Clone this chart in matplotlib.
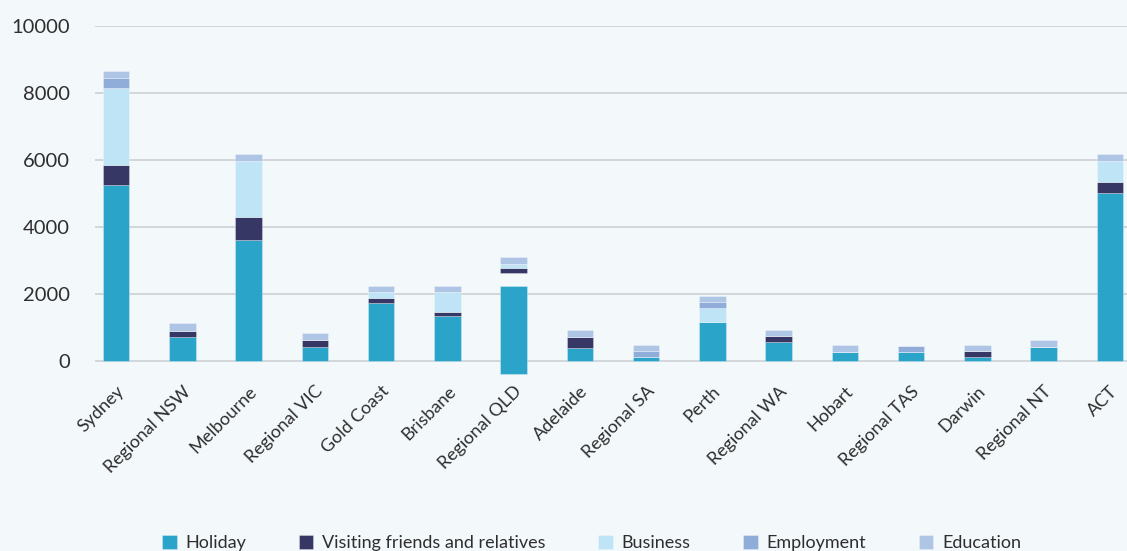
import matplotlib
matplotlib.use("Agg")
import matplotlib.pyplot as plt
import numpy as np

categories = ["Sydney", "Regional NSW", "Melbourne", "Regional VIC", "Gold Coast",
              "Brisbane", "Regional QLD", "Adelaide", "Regional SA", "Perth",
              "Regional WA", "Hobart", "Regional TAS", "Darwin", "Regional NT", "ACT"]

holiday    = [5250, 730, 3600, 420, 1730, 1340, 2640, 400, 130, 1170, 570, 280, 280, 130, 410, 5020]
vfr        = [600, 170, 700, 200, 160, 120, 130, 330, 0, 0, 170, 0, 0, 170, 0, 310]
business   = [2300, 0, 1680, 0, 160, 590, 120, 0, 0, 400, 0, 0, 0, 0, 0, 640]
employment = [300, 0, 0, 0, 0, 0, 0, 0, 170, 200, 0, 0, 170, 0, 0, 0]
education  = [200, 230, 200, 200, 200, 200, 200, 200, 190, 160, 190, 210, 0, 190, 210, 210]
# Holiday segment of Regional QLD is drawn shifted below the axis in the source
holiday_offset = [0, 0, 0, 0, 0, 0, -400, 0, 0, 0, 0, 0, 0, 0, 0, 0]

series = [("Holiday", holiday, "#2aa4c9"),
          ("Visiting friends and relatives", vfr, "#373766"),
          ("Business", business, "#bfe4f6"),
          ("Employment", employment, "#8fadd8"),
          ("Education", education, "#afc5e5")]

yticks = [0, 2000, 4000, 6000, 8000, 10000]

plt.rcParams['font.family'] = ['Lato', 'DejaVu Sans']
bg = "#f3f8fb"
fig = plt.figure(figsize=(11.27, 5.51), dpi=100, facecolor=bg)
ax = fig.add_axes([95/1127, 173.3/551, 1 - 95/1127, (377.7-26)/551])
ax.set_facecolor(bg)

x = np.arange(len(categories))
cum = np.zeros(len(categories))
handles = []
for i, (name, vals, col) in enumerate(series):
    vals = np.array(vals, dtype=float)
    if i == 0:
        bottom = np.array(holiday_offset, dtype=float)
    else:
        bottom = cum.copy()
    b = ax.bar(x, vals, 0.4, bottom=bottom, color=col, edgecolor=(1, 1, 1, 0.35),
               linewidth=0.6, label=name, zorder=3)
    handles.append(b)
    cum += vals

ax.set_xlim(-0.32, 15.26)
ax.set_ylim(-500, 10000)
ax.set_yticks(yticks)
ax.set_yticklabels([str(t) for t in yticks], fontsize=14.5, color="#2e2e2e")
ax.grid(axis="y", color="#d3d6da", linewidth=1.4, zorder=0)
ax.set_axisbelow(True)
for s in ax.spines.values():
    s.set_visible(False)
ax.tick_params(axis="y", length=0, pad=18)
ax.tick_params(axis="x", length=0, pad=4)
ax.set_xticks(x)
ax.set_xticklabels(categories, rotation=45, ha="right", va="top",
                   rotation_mode="anchor", fontsize=13, color="#2e2e2e")

leg = fig.legend(handles=handles, loc="lower center", bbox_to_anchor=(0.525, -0.03),
                 ncol=5, frameon=False, fontsize=13, handlelength=0.8,
                 handleheight=0.8, handletextpad=0.5, columnspacing=2.9)
for t in leg.get_texts():
    t.set_color("#2e2e2e")

fig.savefig("out.png", dpi=100, facecolor=bg)
